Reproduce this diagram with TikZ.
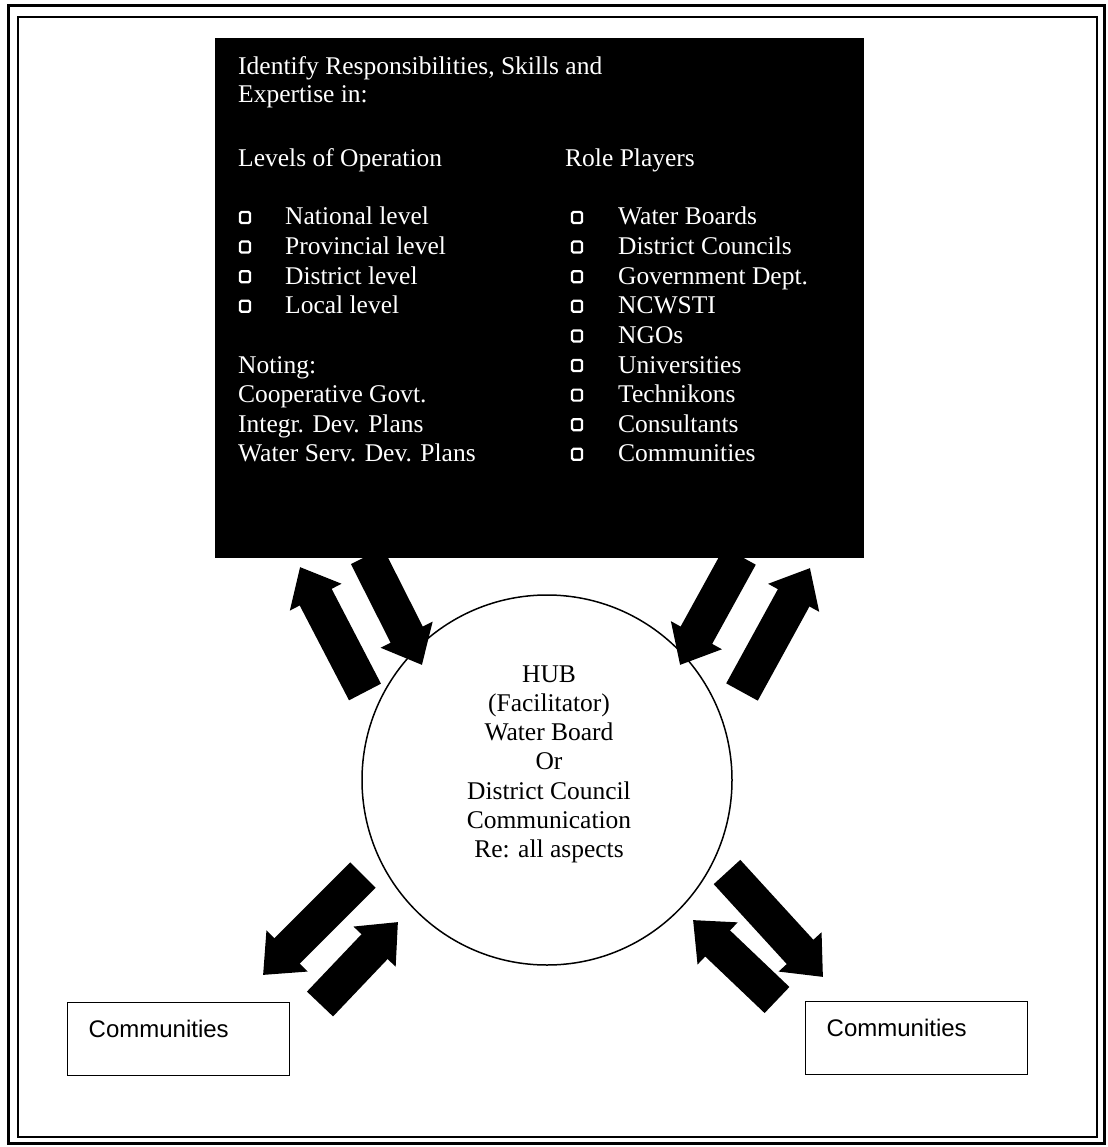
\documentclass[tikz,border=0pt]{standalone}
\usepackage{fontspec}
\setmainfont{Liberation Serif}
\newfontfamily\commfont{Liberation Sans}
\usetikzlibrary{arrows.meta}

\begin{document}
\begin{tikzpicture}[x=1pt, y=-1pt]
	\tikzstyle{txt} = [anchor=base west, inner sep=0pt, text=white, font=\fontsize{25.5}{29.6}\selectfont]
	\tikzstyle{hubline} = [anchor=base, inner sep=0pt, font=\fontsize{25.5}{29.6}\selectfont]
	\tikzstyle{bullet} = [draw=white, line width=2.2pt, rounded corners=1.5pt]
	\tikzstyle{bigarrow} = [line width=36pt, -{Triangle[length=34pt, width=56pt]}]
	\tikzstyle{commbox} = [draw, line width=1.4pt, anchor=north west, align=left, text width=180pt, inner xsep=21pt, inner ysep=0pt, text height=35pt, text depth=38pt, font=\commfont\fontsize{24}{28}\selectfont]
	\useasboundingbox (0,0) rectangle (1107,1147);

	% double frame
	\draw[line width=3pt] (8,6) rectangle (1104,1143);
	\draw[line width=2pt] (18,17) rectangle (1097,1137);

	\node[fill=black, anchor=north west, inner sep=0pt, minimum width=649pt, minimum height=520pt] (roles) at (215,38) {};
	\node[circle, draw, line width=1.5pt, fill=white, inner sep=0pt, minimum size=370pt] (hub) at (547,780) {};

	% arrows
	\coordinate (a1s) at (365,692); \coordinate (a1e) at (300,567);
	\coordinate (a2s) at (367,556); \coordinate (a2e) at (422,665);
	\coordinate (a3s) at (740,556); \coordinate (a3e) at (680,665);
	\coordinate (a4s) at (742,692); \coordinate (a4e) at (810,568);
	\coordinate (a5s) at (363,875); \coordinate (a5e) at (263,975);
	\coordinate (a6s) at (320,1004); \coordinate (a6e) at (398,922);
	\coordinate (a7s) at (727,872); \coordinate (a7e) at (823,977);
	\coordinate (a8s) at (777,1000); \coordinate (a8e) at (693,920);
	\foreach \n in {1,...,8}
		\draw[bigarrow] (a\n s) -- (a\n e);

	% text in the black box
	\node[txt] (title1) at (238,75) {Identify Responsibilities, Skills and};
	\node[txt] (title2) at (238,103) {Expertise in:};
	\node[txt] (levels) at (238,167) {Levels of Operation};
	\node[txt] (players) at (565,167) {Role Players};
	\foreach \lvl [count=\i] in {National level, Provincial level, District level, Local level} {
		\draw[bullet] (240,{212+29.6*(\i-1)}) rectangle ++(10,11);
		\node[txt] (lvl\i) at (285,{225+29.6*(\i-1)}) {\lvl};
	}
	\foreach \who [count=\i] in {Water Boards, District Councils, Government Dept., NCWSTI, NGOs, Universities, Technikons, Consultants, Communities} {
		\draw[bullet] (572,{212+29.6*(\i-1)}) rectangle ++(10,11);
		\node[txt] (who\i) at (618,{225+29.6*(\i-1)}) {\who};
	}
	\foreach \note [count=\i] in {Noting:, Cooperative Govt., Integr. Dev. Plans, Water Serv. Dev. Plans}
		\node[txt] (note\i) at (238,{373+29.6*(\i-1)}) {\note};

	% hub text
	\foreach \ln [count=\i] in {{HUB}, {(Facilitator)}, {Water Board}, {Or}, {District Council}, {Communication}, {Re: all aspects}}
		\node[hubline] (hl\i) at (549,{682+29.3*(\i-1)}) {\ln};

	\node[commbox] (commL) at (67,1002) {Communities};
	\node[commbox] (commR) at (805,1001) {Communities};
\end{tikzpicture}
\end{document}
